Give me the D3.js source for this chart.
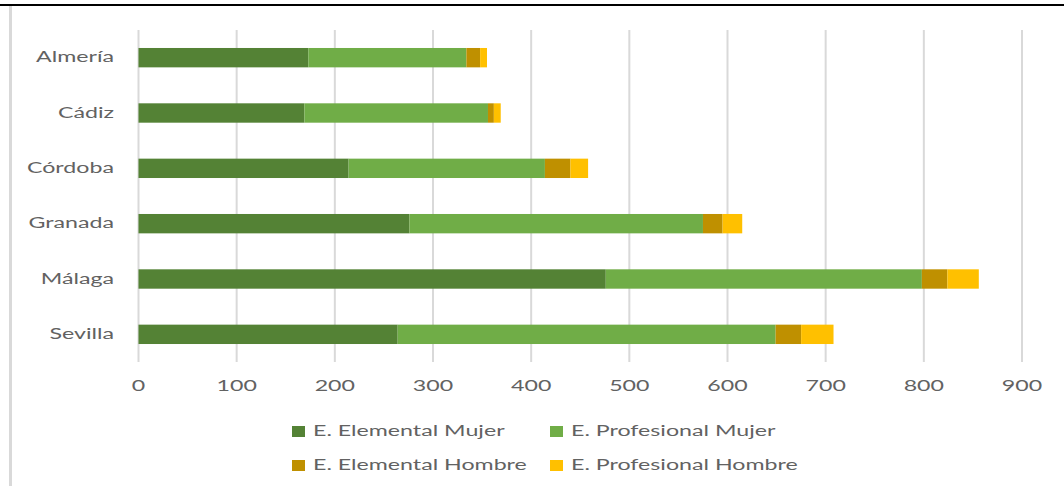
<!DOCTYPE html>
<html>
<head>
<meta charset="utf-8">
<script src="https://cdn.jsdelivr.net/npm/d3@7"></script>
<style>
  html, body { margin: 0; padding: 0; background: #fff; }
  svg { display: block; }
  text { font-family: Lato, "Open Sans", sans-serif; fill: #626262; }
</style>
</head>
<body>
<svg id="chart" width="1064" height="486"></svg>
<script>
// Provinces (top to bottom) and the four stacked series
const categories = ["Almería", "Cádiz", "Córdoba", "Granada", "Málaga", "Sevilla"];
const elementalMujer    = [173, 169, 214, 276, 476, 264];
const profesionalMujer  = [161, 187, 200, 299, 322, 385];
const elementalHombre   = [14, 6, 26, 20, 26, 26];
const profesionalHombre = [7, 7, 18, 20, 32, 33];
const seriesNames = ["E. Elemental Mujer", "E. Profesional Mujer", "E. Elemental Hombre", "E. Profesional Hombre"];
const seriesColors = ["#548235", "#70AD47", "#BF9000", "#FFC000"];
const xTicks = [0, 100, 200, 300, 400, 500, 600, 700, 800, 900];

const W = 1064, H = 486;
const plot = { left: 138.5, right: 1022, top: 30, bottom: 362 };
const FONT = 14.5, SX = 1.6;   // labels are drawn horizontally widened

const svg = d3.select("#chart");

// frame: dark rule along the top, light rule down the left side
svg.append("rect").attr("x", 0).attr("y", 4).attr("width", W).attr("height", 2).attr("fill", "#000");
svg.append("rect").attr("x", 9).attr("y", 6).attr("width", 3).attr("height", H - 6).attr("fill", "#d9d9d9");

const rows = categories.map((c, i) => ({
  cat: c,
  "E. Elemental Mujer": elementalMujer[i],
  "E. Profesional Mujer": profesionalMujer[i],
  "E. Elemental Hombre": elementalHombre[i],
  "E. Profesional Hombre": profesionalHombre[i]
}));

const x = d3.scaleLinear().domain([0, 900]).range([plot.left, plot.right]);
const y = d3.scaleBand().domain(categories).range([plot.top, plot.bottom])
  .paddingInner(0.65).paddingOuter(0.325);
const color = d3.scaleOrdinal().domain(seriesNames).range(seriesColors);

// vertical gridlines
svg.append("g").selectAll("line").data(xTicks).join("line")
  .attr("x1", d => x(d)).attr("x2", d => x(d))
  .attr("y1", plot.top).attr("y2", plot.bottom)
  .attr("stroke", "#d9d9d9").attr("stroke-width", 2);

// stacked bars
const stacked = d3.stack().keys(seriesNames)(rows);
svg.append("g").selectAll("g").data(stacked).join("g")
  .attr("fill", s => color(s.key))
  .selectAll("rect").data(s => s).join("rect")
  .attr("x", d => x(d[0]))
  .attr("width", d => x(d[1]) - x(d[0]))
  .attr("y", d => y(d.data.cat))
  .attr("height", y.bandwidth());

// helper for widened text
function label(g, tx, ty, str, anchor, baseline) {
  g.append("text")
    .attr("transform", `translate(${tx},${ty}) scale(${SX},1)`)
    .attr("text-anchor", anchor)
    .attr("dominant-baseline", baseline || "auto")
    .attr("font-size", FONT)
    .text(str);
}

// category labels
const catG = svg.append("g");
categories.forEach(c => label(catG, 114, y(c) + y.bandwidth() / 2 + 1, c, "end", "middle"));

// x tick labels
const tickG = svg.append("g");
xTicks.forEach(t => label(tickG, x(t), 391, d3.format("d")(t), "middle"));

// legend, two columns by two rows
const legendPos = [[292, 426], [550, 426], [292, 460], [550, 460]];
const legG = svg.append("g");
seriesNames.forEach((name, i) => {
  const [lx, ly] = legendPos[i];
  legG.append("rect").attr("x", lx).attr("y", ly).attr("width", 13).attr("height", 11)
    .attr("fill", color(name));
  label(legG, lx + 21, ly + 10, name, "start");
});
</script>
</body>
</html>
